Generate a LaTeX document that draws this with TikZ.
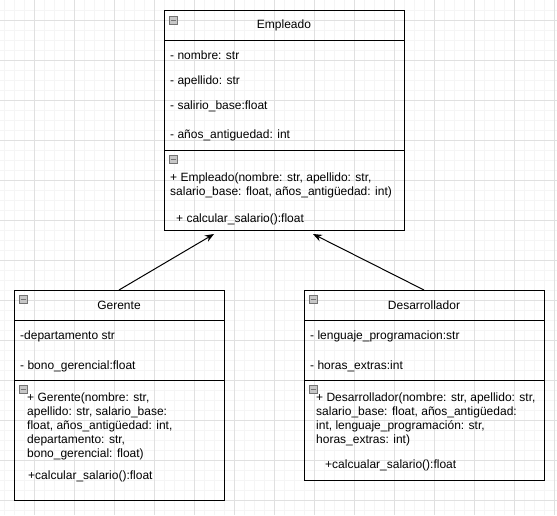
\documentclass[tikz,border=0pt]{standalone}
\usepackage{fontspec}
\setmainfont{Liberation Sans}
\usetikzlibrary{positioning,arrows.meta,calc}

\tikzset{
	classtitle/.style={draw, line width=1pt, outer sep=0pt, inner sep=0pt, font=\fontsize{12}{14}\selectfont},
	compart/.style={draw, line width=1pt, outer sep=0pt, inner sep=0pt},
	member/.style={anchor=base west, inner sep=0pt, align=left, font=\fontsize{12}{14}\selectfont},
	collapse/.style={draw=black!55, fill=black!22, line width=0.8pt, minimum size=8pt, inner sep=0pt,
		path picture={\draw[line width=1pt] ([xshift=1.5pt]path picture bounding box.west) -- ([xshift=-1.5pt]path picture bounding box.east);}},
	gridminor/.style={draw=black!4, line width=1pt},
	gridmajor/.style={draw=black!12, line width=1pt},
	inherit/.style={-{Stealth[length=9pt,width=7pt]}, line width=1pt},
}

\begin{document}
\begin{tikzpicture}[x=1pt, y=-1pt]
	
	\useasboundingbox (0,0) rectangle (557,515);
	
	% background grid
	\foreach \gx in {4,14,...,554} \draw[gridminor] (\gx,0) -- (\gx,515);
	\foreach \gy in {10,20,...,510} \draw[gridminor] (0,\gy) -- (557,\gy);
	\foreach \gx in {34,74,...,554} \draw[gridmajor] (\gx,0) -- (\gx,515);
	\foreach \gy in {20,60,...,500} \draw[gridmajor] (0,\gy) -- (557,\gy);
	
	% classes
	\node[classtitle, minimum width=240, minimum height=30](empleado) at (284,25){Empleado};
	\node[compart, minimum width=240, minimum height=110, below = 0pt of empleado](empleado_attr){};
	\node[compart, minimum width=240, minimum height=80, below = 0pt of empleado_attr](empleado_ops){};
	
	\node[classtitle, minimum width=210, minimum height=30](gerente) at (119,305){Gerente};
	\node[compart, minimum width=210, minimum height=60, below = 0pt of gerente](gerente_attr){};
	\node[compart, minimum width=210, minimum height=120, below = 0pt of gerente_attr](gerente_ops){};
	
	\node[classtitle, minimum width=240, minimum height=30](desarrollador) at (424,305){Desarrollador};
	\node[compart, minimum width=240, minimum height=60, below = 0pt of desarrollador](desarrollador_attr){};
	\node[compart, minimum width=240, minimum height=100, below = 0pt of desarrollador_attr](desarrollador_ops){};
	
	% collapse icons
	\node[collapse](empleado_icon) at ($(empleado.north west)+(9,10)$){};
	\node[collapse](empleado_ops_icon) at ($(empleado_ops.north west)+(9,9)$){};
	\node[collapse](gerente_icon) at ($(gerente.north west)+(9,9)$){};
	\node[collapse](gerente_ops_icon) at ($(gerente_ops.north west)+(9,9)$){};
	\node[collapse](desarrollador_icon) at ($(desarrollador.north west)+(9,9)$){};
	\node[collapse](desarrollador_ops_icon) at ($(desarrollador_ops.north west)+(9,9)$){};
	
	% members (multi-line nodes sit on their last line)
	\node[member](emp_nombre) at (170,59){- nombre: str};
	\node[member](emp_apellido) at (170,84){- apellido: str};
	\node[member](emp_salario) at (170,109){- salirio\_base:float};
	\node[member](emp_anios) at (170,138){- años\_antiguedad: int};
	\node[member](emp_ctor) at (170,195){+ Empleado(nombre: str, apellido: str,\\salario\_base: float, años\_antigüedad: int)};
	\node[member](emp_calc) at (176,222){+ calcular\_salario():float};
	
	\node[member](ger_depto) at (20,339){-departamento str};
	\node[member](ger_bono) at (20,369){- bono\_gerencial:float};
	\node[member](ger_ctor) at (27,457){+ Gerente(nombre: str,\\apellido: str, salario\_base:\\float, años\_antigüedad: int,\\departamento: str,\\bono\_gerencial: float)};
	\node[member](ger_calc) at (28,479){+calcular\_salario():float};
	
	\node[member](des_lenguaje) at (310,339){- lenguaje\_programacion:str};
	\node[member](des_horas) at (310,369){- horas\_extras:int};
	\node[member](des_ctor) at (316,443){+ Desarrollador(nombre: str, apellido: str,\\salario\_base: float, años\_antigüedad:\\int, lenguaje\_programación: str,\\horas\_extras: int)};
	\node[member](des_calc) at (325,468){+calcualar\_salario():float};
	
	% inheritance
	\draw[inherit] (gerente.north) -- ($(empleado_ops.south)+(-70,4)$);
	\draw[inherit] (desarrollador.north) -- ($(empleado_ops.south)+(29,4)$);
	
\end{tikzpicture}
\end{document}
